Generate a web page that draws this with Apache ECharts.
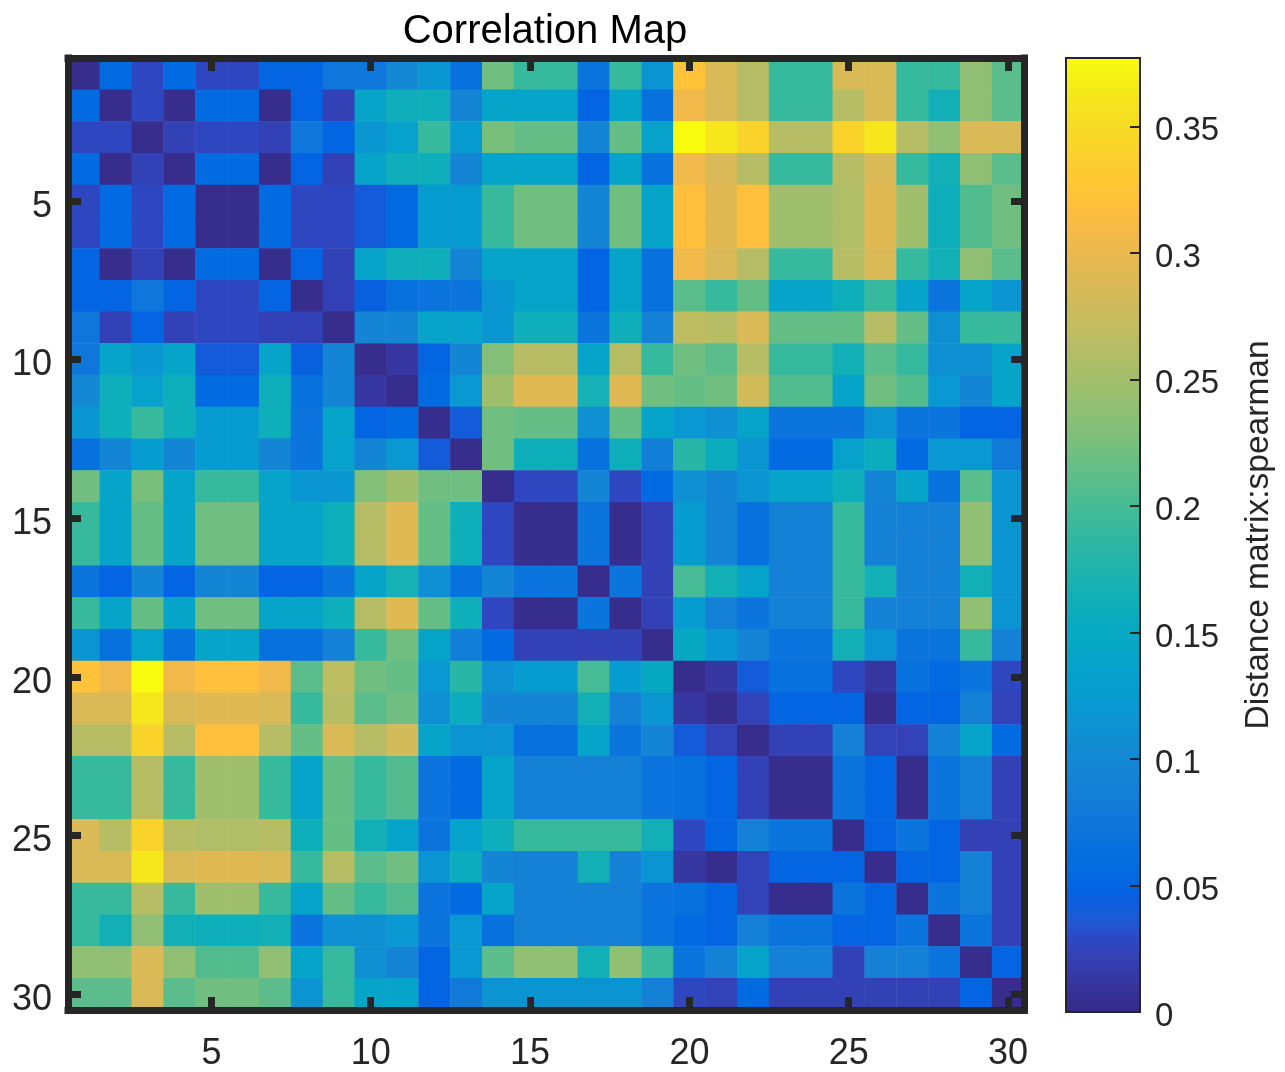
<!DOCTYPE html>
<html>
<head>
<meta charset="utf-8">
<style>html,body{margin:0;padding:0;background:#fff}#c{width:1285px;height:1072px}</style>
<script src="https://cdn.jsdelivr.net/npm/echarts@6/dist/echarts.min.js"></script>
</head>
<body>
<div id="c"></div>
<script>
var titleText = 'Correlation Map';
var colorbarLabel = 'Distance matrix:spearman';
var categories = [];
for (var n = 1; n <= 30; n++) categories.push(String(n));
var colorbarTicks = [0, 0.05, 0.1, 0.15, 0.2, 0.25, 0.3, 0.35];
var colorMax = 0.377;

// Upper triangle of the distance matrix, each row starting at its diagonal cell
var r1 = [.003,.055,.027,.055,.027,.027,.05,.05,.075,.075,.1,.118,.065,.221,.191,.191,.07,.191,.115,.322,.287,.263,.191,.191,.287,.287,.191,.191,.239,.21];
var r2 = [.003,.027,.003,.055,.055,.003,.05,.022,.14,.16,.16,.095,.14,.14,.14,.05,.14,.065,.305,.287,.263,.191,.191,.263,.287,.191,.165,.239,.21];
var r3 = [.003,.022,.027,.027,.022,.075,.05,.118,.135,.191,.125,.226,.215,.215,.095,.215,.135,.377,.362,.341,.263,.263,.341,.362,.263,.239,.287,.287];
var r4 = [.003,.055,.055,.003,.05,.022,.14,.16,.16,.095,.14,.14,.14,.05,.14,.065,.305,.287,.263,.191,.191,.263,.287,.191,.165,.239,.21];
var r5 = [.003,.003,.055,.027,.027,.04,.055,.125,.125,.191,.221,.221,.095,.221,.14,.318,.293,.318,.248,.248,.258,.293,.248,.16,.206,.221];
var r6 = [.003,.055,.027,.027,.04,.055,.125,.125,.191,.221,.221,.095,.221,.14,.318,.293,.318,.248,.248,.258,.293,.248,.16,.206,.221];
var r7 = [.003,.05,.022,.14,.16,.16,.095,.14,.14,.14,.05,.14,.065,.305,.287,.263,.191,.191,.263,.287,.191,.165,.239,.21];
var r8 = [.003,.022,.045,.065,.07,.07,.118,.14,.14,.05,.14,.065,.21,.191,.215,.14,.14,.16,.191,.14,.07,.14,.115];
var r9 = [.003,.095,.095,.14,.135,.118,.16,.16,.07,.16,.09,.268,.263,.287,.215,.215,.215,.263,.215,.11,.191,.191];
var r10 = [.003,.012,.05,.095,.231,.263,.263,.14,.263,.191,.221,.21,.263,.191,.191,.165,.21,.191,.11,.11,.14];
var r11 = [.003,.055,.12,.248,.293,.293,.168,.293,.221,.215,.221,.282,.206,.206,.14,.221,.206,.12,.095,.14];
var r12 = [.003,.04,.221,.215,.215,.11,.215,.14,.12,.11,.14,.07,.07,.07,.115,.07,.07,.05,.05];
var r13 = [.003,.221,.16,.16,.065,.16,.085,.182,.155,.115,.055,.055,.135,.155,.055,.12,.12,.08];
var r14 = [.003,.027,.027,.095,.027,.055,.11,.095,.115,.14,.14,.16,.095,.14,.065,.21,.115];
var r15 = [.003,.003,.07,.003,.022,.125,.095,.065,.09,.09,.191,.09,.09,.09,.239,.115];
var r16 = [.003,.07,.003,.022,.125,.095,.065,.09,.09,.191,.09,.09,.09,.239,.115];
var r17 = [.003,.07,.022,.2,.165,.14,.09,.09,.191,.165,.09,.09,.165,.115];
var r18 = [.003,.022,.125,.09,.07,.09,.09,.191,.09,.09,.09,.239,.115];
var r19 = [.003,.15,.118,.095,.07,.07,.165,.115,.07,.07,.191,.09];
var r20 = [.003,.012,.04,.065,.065,.027,.012,.065,.055,.07,.027];
var r21 = [.003,.024,.05,.05,.05,.003,.05,.05,.09,.024];
var r22 = [.003,.022,.022,.09,.024,.024,.09,.14,.055];
var r23 = [.003,.003,.07,.05,.003,.07,.09,.022];
var r24 = [.003,.07,.05,.003,.07,.09,.022];
var r25 = [.003,.05,.07,.05,.022,.022];
var r26 = [.003,.05,.05,.09,.022];
var r27 = [.003,.07,.09,.022];
var r28 = [.003,.07,.022];
var r29 = [.003,.05];
var r30 = [.003];
var upperRows = [r1,r2,r3,r4,r5,r6,r7,r8,r9,r10,r11,r12,r13,r14,r15,r16,r17,r18,r19,r20,r21,r22,r23,r24,r25,r26,r27,r28,r29,r30];

var parula = ['#352a87','#362f93','#3637a0','#353dad','#3243ba','#2b4ac7','#205ad4','#0f5cdd','#0363e1','#026ae1','#046ee0','#0871de','#0d75dc','#1079da','#127dd8','#1481d6','#1485d4','#1389d3','#108ed2','#0c93d2','#0998d1','#079ccf','#06a0cd','#06a3ca','#06a6c6','#07a9c2','#0aacbe','#0fafb9','#15b1b4','#1db3af','#25b5a9','#2eb7a4','#38b99e','#42bb98','#4dbc92','#59bd8c','#65be86','#71bf80','#7cbf7b','#87bf77','#92bf73','#9bbf6f','#a5be6b','#aebe67','#b7bd64','#c0bc60','#c8bc5d','#d1bb59','#d9ba56','#e1b952','#e9b94e','#f1b94a','#f8ba44','#fdbe3d','#ffc337','#fec832','#fccd2e','#fad32a','#f7d826','#f5de21','#f5e41d','#f5eb18','#f6f313','#f9fb0e'];

var ink = '#262626';
var fontFamily = '"Liberation Sans", Arial, Helvetica, sans-serif';

var cells = [];
upperRows.forEach(function (row, i) {
  row.forEach(function (v, k) {
    var j = i + k;
    cells.push([j, i, v]);
    if (j !== i) cells.push([i, j, v]);
  });
});

function fifth(index) { return (index + 1) % 5 === 0; }

function plotAxis(pos, showLabel, inverse) {
  var label = {
    show: showLabel, interval: fifth, color: ink, fontSize: 36, fontFamily: fontFamily,
    margin: pos === 'bottom' ? 26 : 16
  };
  if (pos === 'left') { label.verticalAlign = 'top'; label.lineHeight = 12; }
  return {
    type: 'category', gridIndex: 0, position: pos, data: categories, inverse: inverse, z: 10,
    axisLine: { show: true, onZero: false, lineStyle: { color: ink, width: 7, cap: 'square' } },
    axisTick: { show: true, inside: true, alignWithLabel: true, interval: fifth, length: 13, lineStyle: { color: ink, width: 7 } },
    axisLabel: label,
    splitLine: { show: false }, splitArea: { show: false }
  };
}

function barFrameX(pos) {
  return {
    type: 'value', gridIndex: 1, position: pos, min: 0, max: 1, z: 10,
    axisLine: { show: true, onZero: false, lineStyle: { color: ink, width: 2, cap: 'square' } },
    axisTick: { show: false }, axisLabel: { show: false }, splitLine: { show: false }
  };
}

var chart = echarts.init(document.getElementById('c'), null, { renderer: 'canvas' });
chart.setOption({
  animation: false,
  backgroundColor: '#fff',
  title: {
    text: titleText, left: 540, top: 7, textAlign: 'center',
    textStyle: { color: '#000', fontSize: 40, fontWeight: 'normal', fontFamily: fontFamily }
  },
  grid: [
    { left: 68, top: 58, width: 956, height: 955, containLabel: false },
    { left: 1066, top: 58, width: 74, height: 954, containLabel: false }
  ],
  xAxis: [plotAxis('bottom', true, false), plotAxis('top', false, false), barFrameX('bottom'), barFrameX('top')],
  yAxis: [
    plotAxis('left', true, true),
    plotAxis('right', false, true),
    {
      type: 'value', gridIndex: 1, position: 'left', min: 0, max: colorMax, z: 10,
      axisLine: { show: true, onZero: false, lineStyle: { color: ink, width: 2, cap: 'square' } },
      axisTick: { show: false }, axisLabel: { show: false }, splitLine: { show: false }
    },
    {
      type: 'value', gridIndex: 1, position: 'right', min: 0, max: colorMax, z: 10,
      name: colorbarLabel, nameLocation: 'middle', nameRotate: 90, nameGap: 102,
      nameTextStyle: { color: ink, fontSize: 33.5, fontFamily: fontFamily },
      axisLine: { show: true, onZero: false, lineStyle: { color: ink, width: 2, cap: 'square' } },
      axisTick: { show: true, inside: true, length: 10, customValues: colorbarTicks, lineStyle: { color: ink, width: 2 } },
      axisLabel: { show: true, customValues: colorbarTicks, color: ink, fontSize: 33, fontFamily: fontFamily, margin: 15, verticalAlign: 'top', lineHeight: 10 },
      splitLine: { show: false }
    }
  ],
  visualMap: {
    type: 'continuous', min: 0, max: colorMax, seriesIndex: 0, calculable: false, hoverLink: false,
    orient: 'vertical', left: 1066, top: 58, itemWidth: 74, itemHeight: 954, padding: 0, text: null,
    inRange: { color: parula }
  },
  series: [{
    type: 'heatmap', xAxisIndex: 0, yAxisIndex: 0, data: cells, silent: true, progressive: 0,
    itemStyle: { borderWidth: 0 }, emphasis: { disabled: true }
  }]
});
</script>
</body>
</html>
